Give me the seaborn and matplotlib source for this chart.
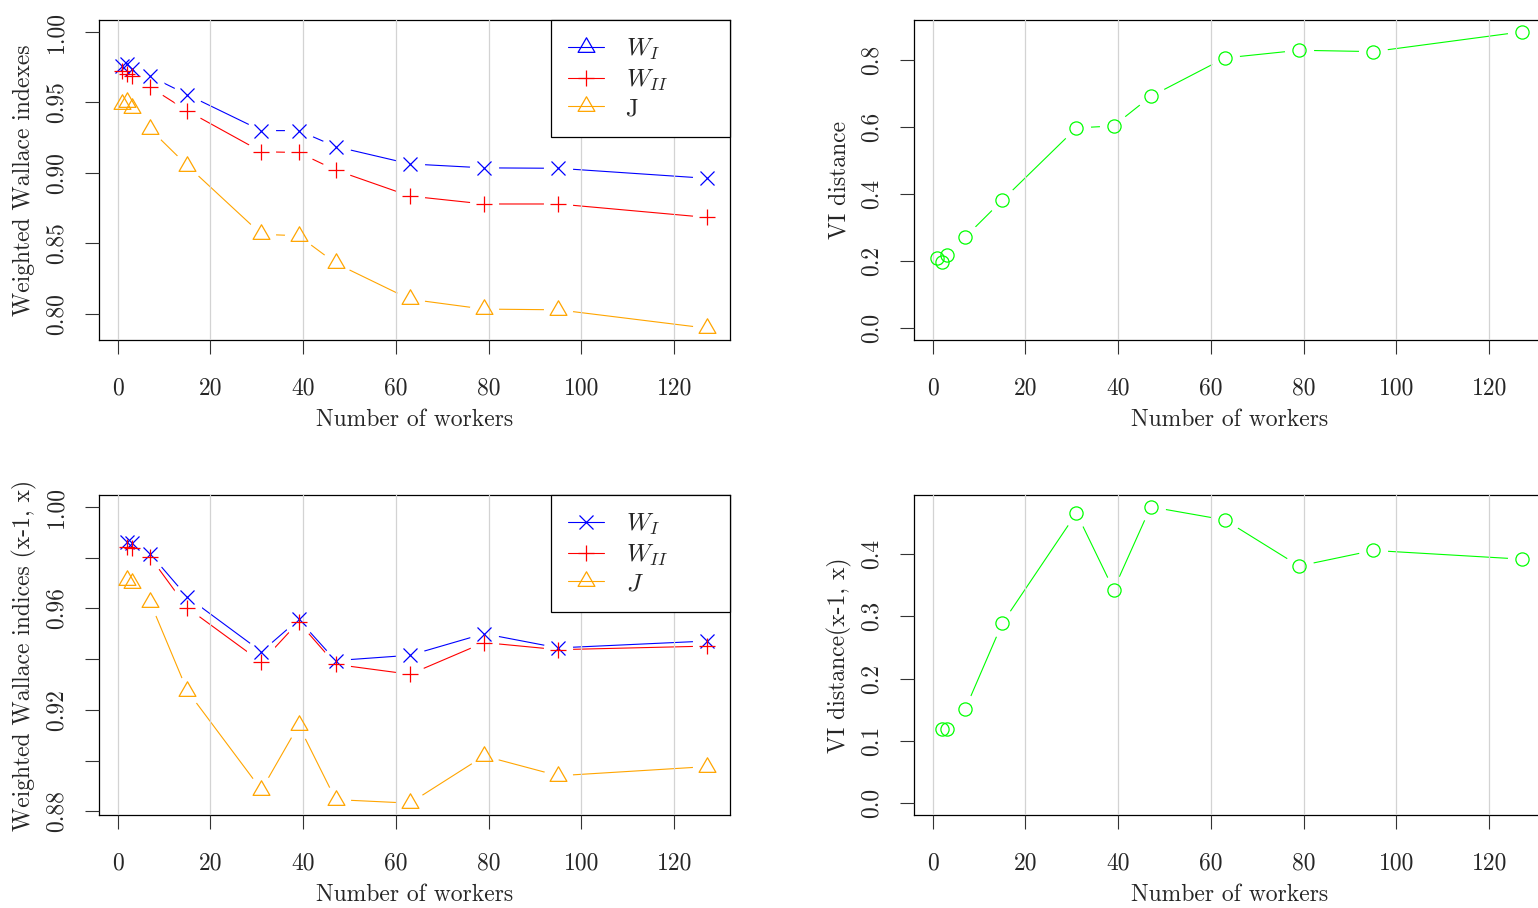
import matplotlib
matplotlib.use("Agg")
import matplotlib.pyplot as plt
import seaborn as sns
from matplotlib.lines import Line2D
from matplotlib.path import Path

# ---------------- data ----------------
workers = [1, 2, 3, 7, 15, 31, 39, 47, 63, 79, 95, 127]
wallace_I = [0.9756, 0.977, 0.974, 0.9685, 0.9555, 0.930, 0.930, 0.9187, 0.9064, 0.9036, 0.9033, 0.8962]
wallace_II = [0.972, 0.970, 0.969, 0.9607, 0.944, 0.915, 0.9145, 0.902, 0.8836, 0.878, 0.878, 0.8685]
jaccard = [0.949, 0.9505, 0.946, 0.931, 0.9052, 0.8565, 0.8555, 0.836, 0.8105, 0.8035, 0.8030, 0.790]
vi_dist = [0.209, 0.197, 0.219, 0.272, 0.382, 0.598, 0.604, 0.692, 0.807, 0.830, 0.826, 0.885]

workers_step = [2, 3, 7, 15, 31, 39, 47, 63, 79, 95, 127]
wallace_I_step = [0.9861, 0.9857, 0.9815, 0.9645, 0.9429, 0.9556, 0.9394, 0.9415, 0.950, 0.9444, 0.9471]
wallace_II_step = [0.9841, 0.9837, 0.9802, 0.9602, 0.9388, 0.9546, 0.9379, 0.9340, 0.9465, 0.9437, 0.9451]
jaccard_step = [0.9712, 0.9701, 0.9624, 0.9275, 0.8884, 0.9139, 0.8846, 0.8832, 0.9018, 0.8940, 0.8976]
vi_step = [0.119, 0.119, 0.151, 0.289, 0.466, 0.343, 0.476, 0.455, 0.381, 0.406, 0.392]

x_ticks = [0, 20, 40, 60, 80, 100, 120]
x_ticklabels = ["0", "20", "40", "60", "80", "100", "120"]
yt_tl = [0.80, 0.85, 0.90, 0.95, 1.00]
yl_tl = ["0.80", "0.85", "0.90", "0.95", "1.00"]
yt_tr = [0.0, 0.2, 0.4, 0.6, 0.8]
yl_tr = ["0.0", "0.2", "0.4", "0.6", "0.8"]
yt_bl = [0.88, 0.90, 0.92, 0.94, 0.96, 0.98, 1.00]
yl_bl = ["0.88", "", "0.92", "", "0.96", "", "1.00"]
yt_br = [0.0, 0.1, 0.2, 0.3, 0.4]
yl_br = ["0.0", "0.1", "0.2", "0.3", "0.4"]

# ---------------- style ----------------
sns.set_style("ticks")
plt.rcParams.update({
    "font.family": ["cmr10", "DejaVu Serif"],
    "mathtext.fontset": "cm",
    "axes.unicode_minus": False,
    "axes.formatter.use_mathtext": True,
    "axes.edgecolor": "black",
    "axes.linewidth": 0.9,
})

FS = 17
BLUE, RED, ORANGE, GREEN = "#0000ff", "#ff0000", "#ffa500", "#00ff00"
TRI = Path([(-1, -0.577), (1, -0.577), (0, 1.155), (-1, -0.577)],
           [Path.MOVETO, Path.LINETO, Path.LINETO, Path.CLOSEPOLY])
LW = 0.8
GAP_MS = 21

W, H = 1538, 908
fig = plt.figure(figsize=(W / 100, H / 100), dpi=100)


def ax_at(left, top, width=631, height=320):
    return fig.add_axes([left / W, (H - top - height) / H, width / W, height / H])


ax_tl = ax_at(99, 20)
ax_tr = ax_at(914, 20)
ax_bl = ax_at(99, 495)
ax_br = ax_at(914, 495)


def r_lim(lo, hi):
    pad = (hi - lo) * 0.04
    return lo - pad, hi + pad


def draw(ax, x, series):
    # series: list of (y, color, marker, ms)
    for y, c, m, ms in series:
        sns.lineplot(x=x, y=y, ax=ax, color=c, lw=LW, sort=False, legend=False,
                     estimator=None, zorder=2.1)
    for y, c, m, ms in series:
        ax.plot(x, y, linestyle="none", marker="o", ms=GAP_MS, mfc="white", mec="none", zorder=2.2)
    for y, c, m, ms in series:
        ax.plot(x, y, linestyle="none", marker=m, ms=ms, mfc="none", mec=c, mew=0.9, zorder=2.6)


def style(ax, yticks, ylabels, ylabel, ylim):
    ax.set_xlim(r_lim(min(workers), max(workers)))
    ax.set_ylim(ylim)
    ax.set_xticks(x_ticks)
    ax.set_xticklabels(x_ticklabels, fontsize=FS)
    ax.set_yticks(yticks)
    ax.set_yticklabels(ylabels, fontsize=FS, rotation=90, va="center")
    ax.tick_params(axis="both", direction="out", length=10, width=0.8, color="#333333")
    ax.tick_params(axis="y", pad=12.5)
    ax.tick_params(axis="x", pad=17)
    ax.grid(axis="x", color="#d3d3d3", lw=0.9)
    ax.grid(axis="y", visible=False)
    ax.set_axisbelow(False)
    ax.set_xlabel("Number of workers", fontsize=FS)
    ax.set_ylabel(ylabel, fontsize=FS)
    ax.xaxis.set_label_coords(0.5, -80 / 320)
    ax.xaxis.label.set_verticalalignment("center")
    ax.yaxis.set_label_coords(-75 / 631, 0.5)
    ax.yaxis.label.set_verticalalignment("center")
    for s in ax.spines.values():
        s.set_visible(True)
        s.set_color("black")
        s.set_linewidth(0.9)


def legend(ax, labels):
    handles = [
        Line2D([], [], color=c, lw=LW, marker=m, ms=ms, mfc="none", mec=c, mew=0.9)
        for c, m, ms in labels[1]
    ]
    lg = ax.legend(handles, labels[0], loc="upper right", mode="expand",
                   bbox_to_anchor=((551 - 99) / 631, 0, (730 - 551) / 631, 1.0),
                   borderaxespad=0, fancybox=False, framealpha=1, edgecolor="black",
                   fontsize=FS + 1, handlelength=1.45, handletextpad=0.85,
                   borderpad=0.68, labelspacing=0.2)
    lg.get_frame().set_linewidth(0.9)
    lg.set_zorder(5)


# top-left
draw(ax_tl, workers, [(wallace_I, BLUE, "x", 10), (wallace_II, RED, "+", 11.5), (jaccard, ORANGE, TRI, 14)])
style(ax_tl, yt_tl, yl_tl, "Weighted Wallace indexes", r_lim(min(jaccard), 1.0))
legend(ax_tl, ([r"$W_I$", r"$W_{II}$", "J"],
               [(BLUE, TRI, 14), (RED, "+", 11.5), (ORANGE, TRI, 14)]))

# top-right
draw(ax_tr, workers, [(vi_dist, GREEN, "o", 9.5)])
style(ax_tr, yt_tr, yl_tr, "VI distance", r_lim(0.0, max(vi_dist)))

# bottom-left
draw(ax_bl, workers_step, [(wallace_I_step, BLUE, "x", 10), (wallace_II_step, RED, "+", 11.5),
                           (jaccard_step, ORANGE, TRI, 14)])
style(ax_bl, yt_bl, yl_bl, "Weighted Wallace indices (x-1, x)", r_lim(min(jaccard_step), 1.0))
legend(ax_bl, ([r"$W_I$", r"$W_{II}$", r"$J$"],
               [(BLUE, "x", 10), (RED, "+", 11.5), (ORANGE, TRI, 14)]))

# bottom-right
draw(ax_br, workers_step, [(vi_step, GREEN, "o", 9.5)])
style(ax_br, yt_br, yl_br, "VI distance(x-1, x)", r_lim(0.0, max(vi_step)))

fig.savefig("out.png", dpi=100)
